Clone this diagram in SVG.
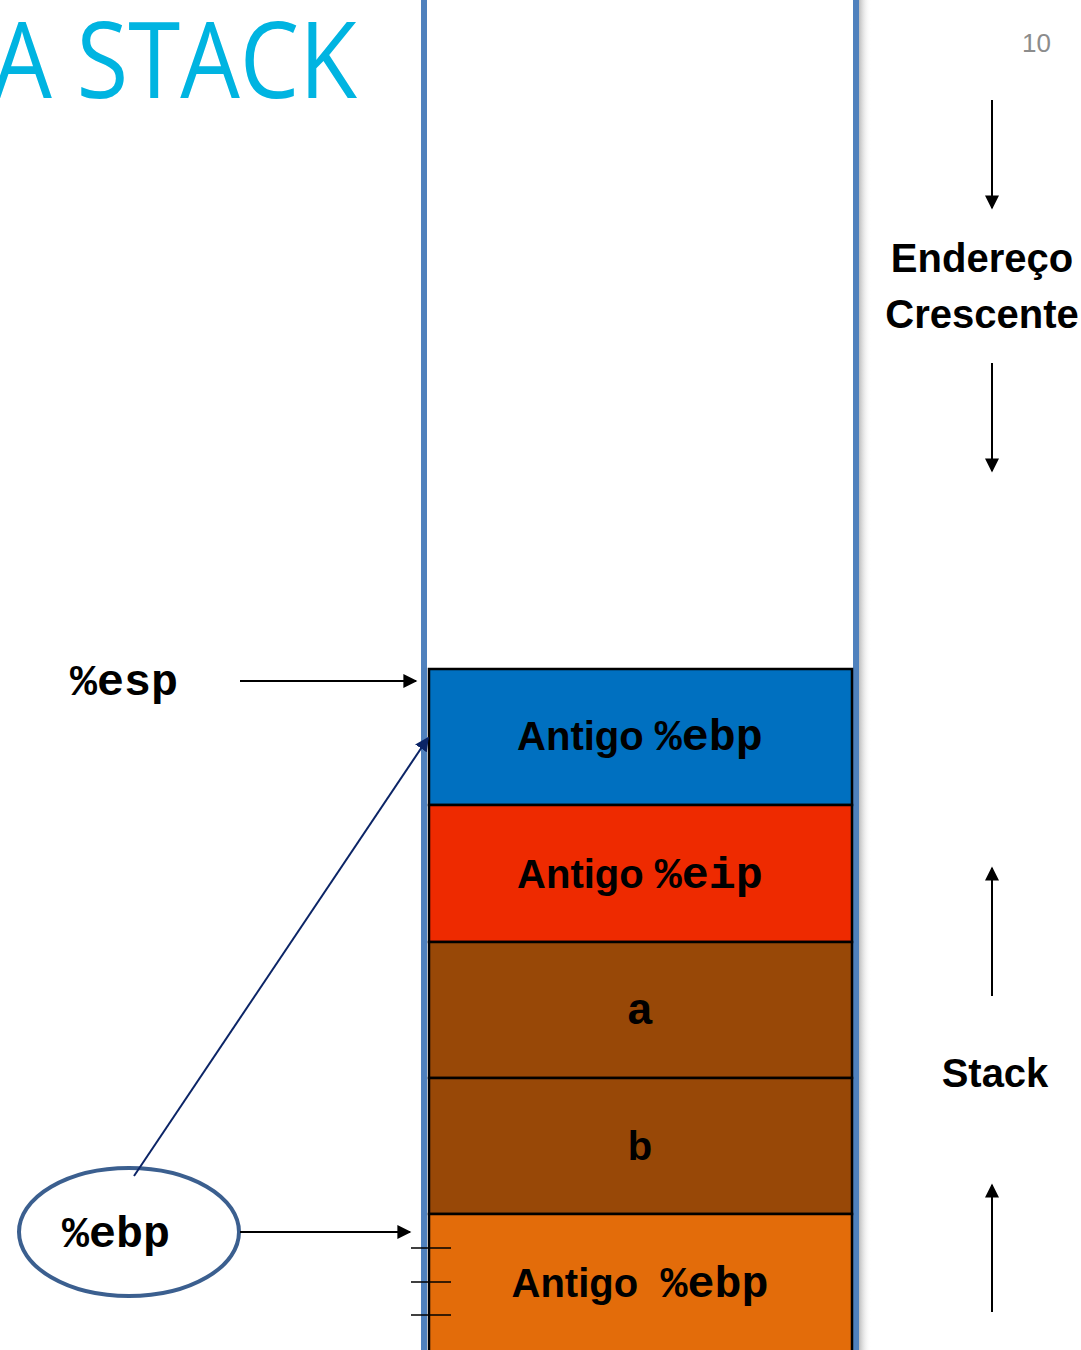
<svg xmlns="http://www.w3.org/2000/svg" width="1081" height="1350" viewBox="0 0 1081 1350">
  <style>
    .sans { font-family: "Liberation Sans", Arial, sans-serif; font-weight: bold; fill: #000; }
    .mono { font-family: "Liberation Mono", "Courier New", monospace; font-weight: bold; fill: #000; }
    .cell { stroke: #000; stroke-width: 2.5; }
    .wire { stroke: #000; stroke-width: 2; fill: none; }
    .tick { stroke: #000; stroke-width: 1.5; }
  </style>
  <defs>
    <marker id="arrBig" viewBox="0 0 10 10" refX="9" refY="5" markerWidth="15" markerHeight="14" markerUnits="userSpaceOnUse" orient="auto">
      <path d="M0,0 L10,5 L0,10 z" fill="#000"/>
    </marker>
    <marker id="arrNavy" viewBox="0 0 10 10" refX="9" refY="5" markerWidth="14" markerHeight="14" markerUnits="userSpaceOnUse" orient="auto">
      <path d="M0,0 L10,5 L0,10 z" fill="#0b2466"/>
    </marker>
    <linearGradient id="shade" x1="0" y1="0" x2="1" y2="0">
      <stop offset="0" stop-color="#bdbdbd"/>
      <stop offset="1" stop-color="#ffffff" stop-opacity="0"/>
    </linearGradient>
  </defs>

  <rect width="1081" height="1350" fill="#fff"/>

  <!-- title -->
  <text transform="translate(357,98) scale(0.89,1)" text-anchor="end" font-family="'Open Sans', 'Noto Sans', sans-serif" font-size="106" fill="#00b4e1">A STACK</text>
  <text x="1051" y="52" text-anchor="end" font-family="'Liberation Sans', Arial, sans-serif" font-size="26" fill="#8c8c8c">10</text>

  <!-- stack column walls -->
  <g id="column">
    <rect x="859" y="0" width="12" height="1350" fill="url(#shade)"/>
    <rect x="421" y="0" width="6" height="1350" fill="#4f81bd"/>
    <rect x="853" y="0" width="6" height="1350" fill="#4f81bd"/>
  </g>

  <!-- stack frames -->
  <g id="cell-old-ebp-top">
    <rect class="cell" x="429" y="669" width="423" height="136" fill="#0070c0"/>
    <text x="640" y="750" text-anchor="middle"><tspan class="sans" font-size="40">Antigo </tspan><tspan class="mono" font-size="45">%ebp</tspan></text>
  </g>
  <g id="cell-old-eip">
    <rect class="cell" x="429" y="805" width="423" height="137" fill="#ee2a00"/>
    <text x="640" y="888" text-anchor="middle"><tspan class="sans" font-size="40">Antigo </tspan><tspan class="mono" font-size="45">%eip</tspan></text>
  </g>
  <g id="cell-a">
    <rect class="cell" x="429" y="942" width="423" height="136" fill="#984807"/>
    <text class="mono" x="640" y="1024" text-anchor="middle" font-size="45">a</text>
  </g>
  <g id="cell-b">
    <rect class="cell" x="429" y="1078" width="423" height="136" fill="#984807"/>
    <text class="sans" x="640" y="1160" text-anchor="middle" font-size="40">b</text>
  </g>
  <g id="cell-old-ebp-bottom">
    <rect class="cell" x="429" y="1214" width="423" height="140" fill="#e36c0a"/>
    <text x="640" y="1297" text-anchor="middle" xml:space="preserve"><tspan class="sans" font-size="40">Antigo  </tspan><tspan class="mono" font-size="45">%ebp</tspan></text>
  </g>

  <!-- register labels -->
  <g id="reg-esp">
    <text class="mono" x="70" y="695" font-size="45">%esp</text>
  </g>
  <g id="reg-ebp">
    <ellipse cx="129" cy="1232" rx="110" ry="64" fill="#fff" stroke="#3b5f8f" stroke-width="4"/>
    <text class="mono" x="62" y="1247" font-size="45">%ebp</text>
  </g>

  <!-- direction labels -->
  <g id="label-address">
    <text class="sans" x="982" y="272" text-anchor="middle" font-size="40">Endereço</text>
    <text class="sans" x="982" y="328" text-anchor="middle" font-size="40">Crescente</text>
  </g>
  <g id="label-stack">
    <text class="sans" x="995" y="1087" text-anchor="middle" font-size="40">Stack</text>
  </g>

  <!-- connectors -->
  <g id="connectors">
    <line class="wire" x1="240" y1="681" x2="416" y2="681" marker-end="url(#arrBig)"/>
    <line class="wire" x1="240" y1="1232" x2="410" y2="1232" marker-end="url(#arrBig)"/>
    <line x1="134" y1="1176" x2="428" y2="738" stroke="#0b2466" stroke-width="2" marker-end="url(#arrNavy)"/>
    <line class="wire" x1="992" y1="100" x2="992" y2="208" marker-end="url(#arrBig)"/>
    <line class="wire" x1="992" y1="363" x2="992" y2="471" marker-end="url(#arrBig)"/>
    <line class="wire" x1="992" y1="996" x2="992" y2="868" marker-end="url(#arrBig)"/>
    <line class="wire" x1="992" y1="1312" x2="992" y2="1185" marker-end="url(#arrBig)"/>
    <line class="tick" x1="411" y1="1248" x2="451" y2="1248"/>
    <line class="tick" x1="411" y1="1282" x2="451" y2="1282"/>
    <line class="tick" x1="411" y1="1315" x2="451" y2="1315"/>
  </g>
</svg>
